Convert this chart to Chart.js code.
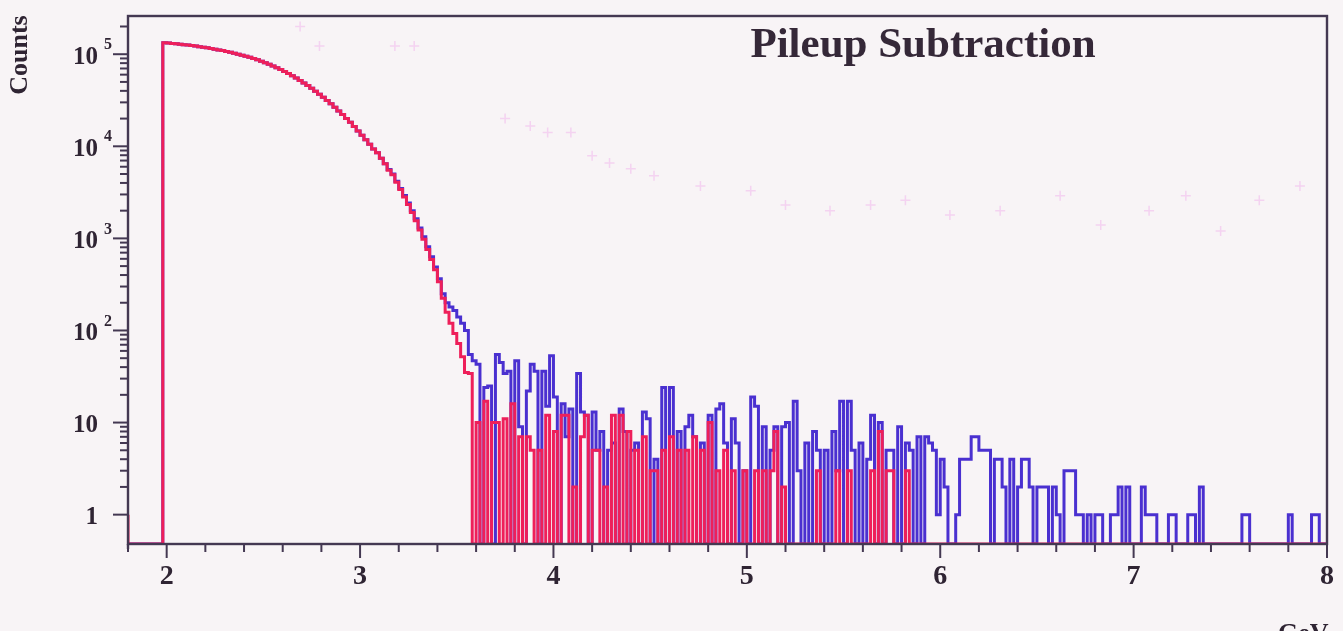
<!DOCTYPE html>
<html>
<head>
<meta charset="utf-8">
<script src="https://cdn.jsdelivr.net/npm/chart.js@4"></script>
<style>
html,body{margin:0;padding:0;background:#f8f4f6;}
canvas{display:block;}
</style>
</head>
<body>
<canvas id="c" width="1343" height="631"></canvas>
<script>
// ---- axis ranges / ticks ----
const binStart = 1.8;
const binWidth = 0.02;
const xMin = 1.8, xMax = 8.0;
const yMin = 0.48, yMax = 2.6e5;
const xTickLabels = [2, 3, 4, 5, 6, 7, 8];
const yTickValues = [1, 10, 100, 1000, 10000, 100000];
const yTickBase = ['1', '10', '10', '10', '10', '10'];
const yTickExp = ['', '', '2', '3', '4', '5'];
const titleText = 'Pileup Subtraction';
const yAxisTitle = 'Counts';
const xAxisTitle = 'GeV';

// ---- histogram counts (0.02 GeV bins) ----
const redBelow2 = [1, 0, 0, 0, 0, 0, 0, 0, 0, 0];
const blueBelow2 = [0, 0, 0, 0, 0, 0, 0, 0, 0, 0];
const redSmooth = [
  133400,132100,130900,129700,128500,127000,125600,124200,122500,120800,
  119100,117200,115300,113500,111400,109400,107200,105000,102600,100200,
  97700,95100,92500,89700,86900,83900,80900,77800,74600,71400,
  68200,65000,61700,58300,55100,51900,48800,45600,42600,39600,
  36800,34000,31400,28900,26500,24200,22100,20000,18200,16400,
  14700,13200,11800,10500,9330,8510,7410,6460,5500,4900,
  4070,3390,2820,2340,1910,1550,1230,977,759,589,
  457,339,224,158,120,93,72,52,35
];
const blueSmooth = [
  133400,132100,130900,129700,128500,127000,125600,124200,122500,120800,
  119100,117200,115300,113500,111400,109400,107200,105000,102600,100200,
  97700,95100,92500,89700,86900,83900,80900,77800,74600,71400,
  68200,65000,61700,58300,55100,51900,48800,45600,42600,39600,
  36800,34000,31400,28900,26500,24200,22100,20000,18200,16400,
  14700,13200,11800,10500,9330,8510,7410,6460,5600,5000,
  4180,3490,2920,2430,2000,1630,1300,1040,810,630,
  490,365,251,200,180,165,140,120,100
];
const redTail = [
  34,0,10,0,17,0,10,10,0,11,
  0,16,0,7,0,7,5,0,5,0,
  12,0,8,0,12,12,0,2,0,7,
  12,0,5,5,0,2,0,12,0,12,
  0,8,0,5,0,7,0,3,3,0,
  5,0,7,0,5,0,5,0,7,0,
  5,0,10,0,3,0,5,0,3,0,
  0,3,0,0,3,0,3,0,3,8,
  0,2,0,0,0,0,0,0,0,0,
  3,0,0,0,0,3,0,0,3,0,
  0,0,0,0,3,0,8,0,3,3,
  0,0,0,3,0,0,0,0,0,0,
  0,0,0,0,0,0,0,0,0,0,
  0,0,0,0,0,0,0,0,0,0,
  0,0,0,0,0,0,0,0,0,0,
  0,0,0,0,0,0,0,0,0,0,
  0,0,0,0,0,0,0,0,0,0,
  0,0,0,0,0,0,0,0,0,0,
  0,0,0,0,0,0,0,0,0,0,
  0,0,0,0,0,0,0,0,0,0,
  0,0,0,0,0,0,0,0,0,0,
  0,0,0,0,0,0,0,0,0,0,0
];
const blueTail = [
  55,47,43,0,24,25,0,55,45,34,
  36,0,47,9,0,22,43,36,0,36,
  15,53,19,0,16,7,14,0,34,13,
  12,0,13,5,8,0,5,6,0,14,
  8,0,5,6,0,13,11,0,4,0,
  24,0,24,0,8,0,9,12,7,0,
  6,0,12,0,14,16,6,0,11,6,
  0,3,0,19,15,0,9,0,5,9,
  0,9,10,0,17,3,0,6,0,8,
  5,0,5,0,8,3,17,0,17,5,
  0,6,0,4,12,0,10,0,5,5,
  0,9,0,6,5,0,7,0,7,6,
  5,1,4,2,0,0,1,4,4,4,
  7,7,5,5,5,0,4,4,2,0,
  4,0,2,4,4,2,0,2,2,2,
  0,2,1,0,3,3,3,1,1,0,
  1,0,1,1,0,0,1,1,2,0,
  2,0,0,0,2,1,1,1,0,0,
  0,1,1,0,0,0,1,1,0,2,
  0,0,0,0,0,0,0,0,0,0,
  1,1,0,0,0,0,0,0,0,0,
  0,0,1,0,0,0,0,0,1,1,0
];

// faint bleed-through crosses
const ghostX = [2.69,2.79,3.18,3.28,3.75,3.88,3.97,4.09,4.20,4.29,4.40,4.52,4.76,5.02,5.20,5.43,5.64,5.82,6.05,6.31,6.62,6.83,7.08,7.27,7.45,7.65,7.86];
const ghostY = [200000,123000,123000,123000,20000,16600,14100,14100,7900,6600,5700,4800,3700,3300,2300,2000,2300,2600,1800,2000,2900,1400,2000,2900,1200,2600,3700];

// ---- colours ----
const bgColor = '#f8f4f6';
const frameColor = '#443852';
const textColor = '#2f2433';
const redColor = '#ee1f5a';
const blueColor = '#4a30d0';

const redCounts = [...redBelow2, ...redSmooth, ...redTail];
const blueCounts = [...blueBelow2, ...blueSmooth, ...blueTail];

function histPoints(counts) {
  const pts = counts.map((c, j) => ({ x: binStart + j * binWidth, y: c > 0 ? c : yMin }));
  const last = counts[counts.length - 1];
  pts.push({ x: binStart + counts.length * binWidth, y: last > 0 ? last : yMin });
  return pts;
}

const xTickPositions = [];
for (let k = 0; k <= 31; k++) xTickPositions.push(+(xMin + k * 0.2).toFixed(2));
const yTickPositions = [];
for (let e = 0; e <= 5; e++) for (let m = 1; m <= 9; m++) {
  const v = m * Math.pow(10, e);
  if (v <= yMax) yTickPositions.push(v);
}

const serif = '"Liberation Serif", "DejaVu Serif", serif';

const decor = {
  id: 'decor',
  beforeDraw(chart) {
    const { ctx, width, height } = chart;
    ctx.save();
    ctx.fillStyle = bgColor;
    ctx.fillRect(0, 0, width, height);
    ctx.restore();
  },
  afterDraw(chart) {
    const { ctx, chartArea: a, scales: { x, y } } = chart;
    ctx.save();
    ctx.strokeStyle = frameColor;
    ctx.lineWidth = 2.4;
    ctx.strokeRect(a.left, a.top, a.right - a.left, a.bottom - a.top);
    ctx.beginPath(); ctx.moveTo(a.left, a.bottom); ctx.lineTo(a.left, a.bottom + 5); ctx.stroke();

    ctx.lineWidth = 2;
    x.ticks.forEach(t => {
      const px = x.getPixelForValue(t.value);
      if (px < a.left - 1 || px > a.right + 1) return;
      const major = Math.abs(t.value - Math.round(t.value)) < 1e-6;
      ctx.beginPath(); ctx.moveTo(px, a.bottom); ctx.lineTo(px, a.bottom + (major ? 14 : 8)); ctx.stroke();
    });
    y.ticks.forEach(t => {
      const py = y.getPixelForValue(t.value);
      const major = yTickValues.includes(t.value);
      ctx.beginPath(); ctx.moveTo(a.left - (major ? 15 : 8), py); ctx.lineTo(a.left, py); ctx.stroke();
    });

    ctx.fillStyle = textColor;
    ctx.font = 'bold 28px ' + serif;
    ctx.textAlign = 'center';
    ctx.textBaseline = 'alphabetic';
    xTickLabels.forEach(v => ctx.fillText(String(v), x.getPixelForValue(v), 584));
    yTickValues.forEach((v, i) => {
      const py = y.getPixelForValue(v);
      ctx.font = 'bold 25px ' + serif;
      ctx.textAlign = 'right';
      ctx.textBaseline = 'middle';
      ctx.fillText(yTickBase[i], 98, py + 3);
      if (yTickExp[i]) {
        ctx.font = 'bold 16px ' + serif;
        ctx.textAlign = 'left';
        ctx.fillText(yTickExp[i], 104, py - 9);
      }
    });

    ctx.font = 'bold 43px ' + serif;
    ctx.textAlign = 'center';
    ctx.textBaseline = 'alphabetic';
    ctx.fillStyle = '#352838';
    ctx.fillText(titleText, 923, 57);

    ctx.font = 'bold 26px ' + serif;
    ctx.fillStyle = textColor;
    ctx.save();
    ctx.translate(27, 55);
    ctx.rotate(-Math.PI / 2);
    ctx.textAlign = 'center';
    ctx.textBaseline = 'alphabetic';
    ctx.fillText(yAxisTitle, 0, 0);
    ctx.restore();
    ctx.textAlign = 'left';
    ctx.fillText(xAxisTitle, 1278, 641);
    ctx.restore();
  }
};

new Chart(document.getElementById('c'), {
  type: 'line',
  data: {
    datasets: [
      {
        label: 'After subtraction',
        data: histPoints(redCounts),
        stepped: 'after',
        borderColor: redColor,
        borderWidth: 3,
        pointRadius: 0,
        fill: false,
        tension: 0
      },
      {
        label: 'Before subtraction',
        data: histPoints(blueCounts),
        stepped: 'after',
        borderColor: blueColor,
        borderWidth: 3,
        pointRadius: 0,
        fill: false,
        tension: 0
      },
      {
        label: 'ghost',
        data: ghostX.map((gx, i) => ({ x: gx, y: ghostY[i] })),
        showLine: false,
        pointStyle: 'cross',
        pointRadius: 5,
        pointBorderWidth: 1.5,
        borderColor: 'rgba(238,150,232,0.35)',
        backgroundColor: 'rgba(238,150,232,0.35)'
      }
    ]
  },
  options: {
    responsive: false,
    animation: false,
    devicePixelRatio: 1,
    layout: { padding: { left: 128, right: 16, top: 16, bottom: 87 } },
    plugins: { legend: { display: false }, tooltip: { enabled: false }, title: { display: false } },
    scales: {
      x: {
        type: 'linear', min: xMin, max: xMax,
        grid: { display: false }, border: { display: false },
        ticks: { display: false },
        afterBuildTicks: s => { s.ticks = xTickPositions.map(v => ({ value: v })); },
        afterFit: s => { s.height = 0; }
      },
      y: {
        type: 'logarithmic', min: yMin, max: yMax,
        grid: { display: false }, border: { display: false },
        ticks: { display: false },
        afterBuildTicks: s => { s.ticks = yTickPositions.map(v => ({ value: v })); },
        afterFit: s => { s.width = 0; }
      }
    }
  },
  plugins: [decor]
});
</script>
</body>
</html>
